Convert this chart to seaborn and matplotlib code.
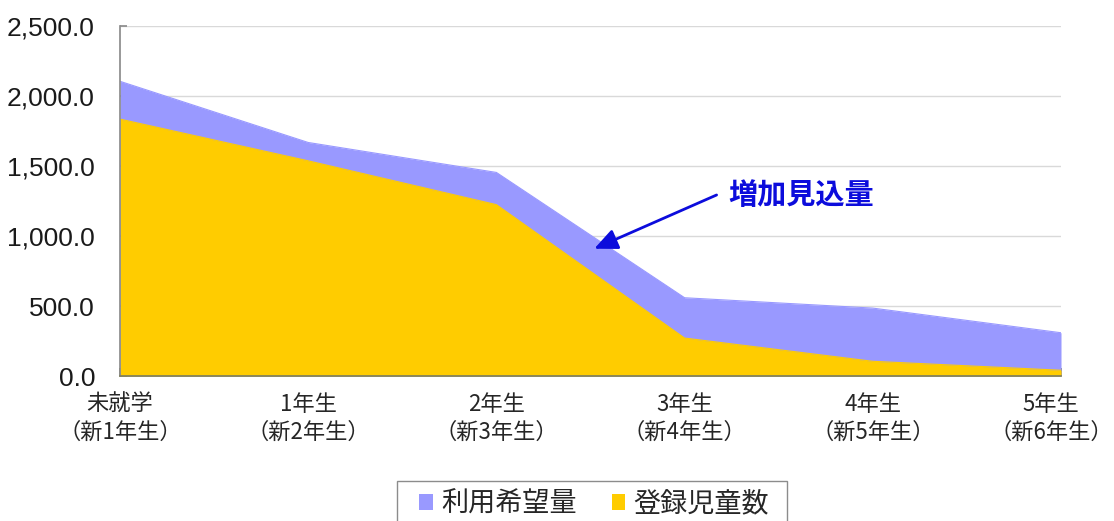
import matplotlib
matplotlib.use("Agg")
import matplotlib.pyplot as plt
import matplotlib.transforms as mtransforms
from matplotlib.patches import Rectangle
import seaborn as sns
import pandas as pd
from matplotlib.ticker import FuncFormatter, MultipleLocator

categories = ["未就学\n（新1年生）", "1年生\n（新2年生）", "2年生\n（新3年生）",
              "3年生\n（新4年生）", "4年生\n（新5年生）", "5年生\n（新6年生）"]
demand = [2105, 1668, 1454, 559, 485, 309]      # 利用希望量
registered = [1835, 1537, 1224, 271, 105, 41]   # 登録児童数
series_names = ["利用希望量", "登録児童数"]
annotation_text = "増加見込量"

sns.set_theme(style="white")
plt.rcParams['font.family'] = ['Liberation Sans', 'Noto Sans CJK JP', 'DejaVu Sans']

df = pd.DataFrame({"x": range(len(categories)), "demand": demand, "registered": registered})

W, H = 1114, 521
fig = plt.figure(figsize=(W/100, H/100), dpi=100)
ax = fig.add_axes([120/W, 1-376/H, (1061-120)/W, (376-26)/H])

c_purple = "#9999FF"
c_yellow = "#FFCC00"
c_blue = "#0C0CDC"

ax.fill_between(df["x"], df["demand"], 0, color=c_purple, linewidth=0, zorder=2, label=series_names[0])
ax.fill_between(df["x"], df["registered"], 0, color=c_yellow, linewidth=0, zorder=3, label=series_names[1])
sns.lineplot(data=df, x="x", y="demand", ax=ax, color=c_purple, linewidth=0.8, zorder=2, legend=False)
sns.lineplot(data=df, x="x", y="registered", ax=ax, color=c_yellow, linewidth=0.8, zorder=3, legend=False)

ax.set_xlim(0, len(categories) - 1)
ax.set_ylim(0, 2500)
ax.yaxis.set_major_locator(MultipleLocator(500))
ax.yaxis.set_major_formatter(FuncFormatter(lambda v, p: f"{v:,.1f}"))
ax.set_xticks(range(len(categories)))
ax.set_xticklabels(categories, fontsize=16, family=['Noto Sans CJK JP'], linespacing=1.3)
ax.set_xlabel("")
ax.set_ylabel("")
ax.grid(axis="y", color="#D9D9D9", linewidth=1, zorder=0)
ax.set_axisbelow(True)
for s in ["top", "right"]:
    ax.spines[s].set_visible(False)
ax.spines["left"].set_color("#8C8C8C")
ax.spines["bottom"].set_color("#7F7F60")
ax.spines["left"].set_zorder(5)
ax.spines["bottom"].set_zorder(5)
ax.tick_params(axis="y", labelsize=19, direction="in", length=5, color="#8C8C8C", pad=18, left=True)
ax.tick_params(axis="x", direction="in", length=6, color="#7F7F60", pad=12, bottom=True)
for t in ax.get_yticklabels():
    t.set_color("#1a1a1a")
# nudge the last category label slightly left so it stays inside the canvas
last = ax.get_xticklabels()[-1]
last.set_transform(last.get_transform() + mtransforms.ScaledTranslation(-10/100, 0, fig.dpi_scale_trans))

# annotation: text and arrow
ax.text(3.23, 1293, annotation_text, fontsize=21, fontweight="bold", color=c_blue,
        family=['Noto Sans CJK JP'], va="center", ha="left", zorder=6)
ax.annotate("", xy=(2.52, 909), xytext=(3.17, 1293),
            arrowprops=dict(arrowstyle="-|>,head_length=1.0,head_width=0.45",
                            mutation_scale=14, color=c_blue, lw=2, shrinkA=0, shrinkB=0),
            zorder=6)

# legend with custom frame
fig.patches.append(Rectangle((397/W, 1-535/H), (787-397)/W, (535-481)/H,
                             transform=fig.transFigure, fill=False,
                             edgecolor="#8C8C8C", linewidth=1.0))
leg = fig.legend(handles=ax.collections[:2], labels=series_names,
                 loc="center", bbox_to_anchor=(594/W, 1-504/H),
                 ncol=2, frameon=False,
                 prop={'family': ['Noto Sans CJK JP'], 'size': 19.5},
                 handlelength=0.5, handleheight=0.5, handletextpad=0.3,
                 columnspacing=1.3, borderpad=0.2, borderaxespad=0)

fig.savefig("out.png", dpi=100)
